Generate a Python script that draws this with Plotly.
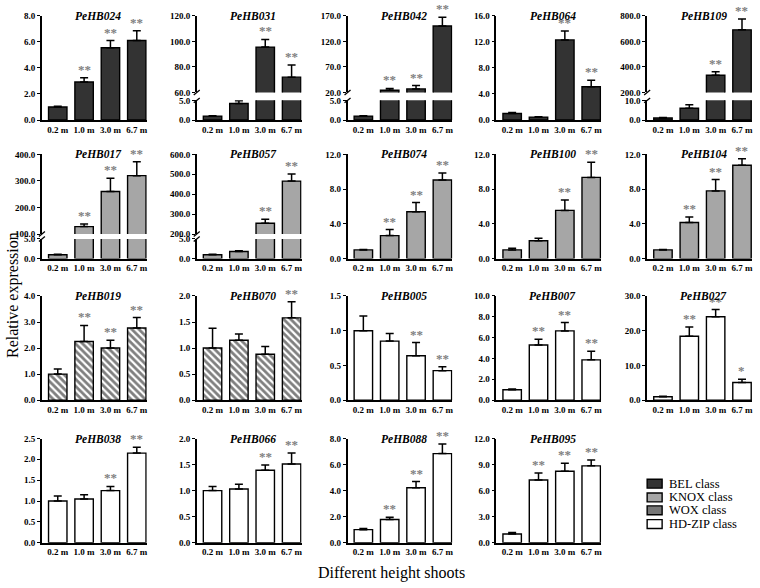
import plotly.graph_objects as go

W, H = 760, 588
FONT = "Liberation Serif"

# ---------------- data ----------------
heights = ["0.2 m", "1.0 m", "3.0 m", "6.7 m"]

PeHB024 = [1.0, 2.92, 5.55, 6.1]
PeHB024_sd = [0.05, 0.32, 0.55, 0.75]
PeHB024_sig = ["", "**", "**", "**"]

PeHB031 = [1.0, 4.2, 95.5, 72.0]
PeHB031_sd = [0.1, 0.7, 6.0, 9.5]
PeHB031_sig = ["", "", "**", "**"]

PeHB042 = [1.0, 24.5, 27.0, 150.0]
PeHB042_sd = [0.1, 3.5, 6.5, 17.0]
PeHB042_sig = ["", "**", "**", "**"]

PeHB064 = [1.0, 0.45, 12.3, 5.1]
PeHB064_sd = [0.15, 0.05, 1.35, 1.0]
PeHB064_sig = ["", "", "**", "**"]

PeHB109 = [1.0, 6.0, 335.0, 690.0]
PeHB109_sd = [0.3, 1.8, 28.0, 85.0]
PeHB109_sig = ["", "", "**", "**"]

PeHB017 = [1.0, 128.0, 260.0, 320.0]
PeHB017_sd = [0.1, 10.0, 50.0, 52.0]
PeHB017_sig = ["", "**", "**", "**"]

PeHB057 = [1.0, 1.8, 254.0, 466.0]
PeHB057_sd = [0.1, 0.2, 20.0, 35.0]
PeHB057_sig = ["", "", "**", "**"]

PeHB074 = [1.0, 2.65, 5.4, 9.05]
PeHB074_sd = [0.05, 0.7, 1.05, 0.8]
PeHB074_sig = ["", "**", "**", "**"]

PeHB100 = [1.0, 2.05, 5.55, 9.35]
PeHB100_sd = [0.2, 0.3, 1.2, 1.75]
PeHB100_sig = ["", "", "**", "**"]

PeHB104 = [1.0, 4.15, 7.8, 10.75]
PeHB104_sd = [0.05, 0.65, 1.3, 0.75]
PeHB104_sig = ["", "**", "**", "**"]

PeHB019 = [1.0, 2.25, 2.0, 2.77]
PeHB019_sd = [0.2, 0.62, 0.3, 0.4]
PeHB019_sig = ["", "**", "**", "**"]

PeHB070 = [1.0, 1.15, 0.88, 1.58]
PeHB070_sd = [0.38, 0.12, 0.15, 0.31]
PeHB070_sig = ["", "", "", "**"]

PeHB005 = [1.0, 0.85, 0.64, 0.425]
PeHB005_sd = [0.21, 0.11, 0.19, 0.055]
PeHB005_sig = ["", "", "**", "**"]

PeHB007 = [1.0, 5.3, 6.65, 3.87]
PeHB007_sd = [0.08, 0.55, 0.8, 0.83]
PeHB007_sig = ["", "**", "**", "**"]

PeHB027 = [1.0, 18.4, 24.0, 5.1]
PeHB027_sd = [0.1, 2.7, 2.1, 0.9]
PeHB027_sig = ["", "**", "**", "*"]

PeHB038 = [1.0, 1.05, 1.25, 2.15]
PeHB038_sd = [0.12, 0.1, 0.1, 0.14]
PeHB038_sig = ["", "", "**", "**"]

PeHB066 = [1.0, 1.03, 1.39, 1.51]
PeHB066_sd = [0.08, 0.09, 0.1, 0.21]
PeHB066_sig = ["", "", "**", "**"]

PeHB088 = [1.0, 1.78, 4.22, 6.84]
PeHB088_sd = [0.09, 0.17, 0.47, 0.74]
PeHB088_sig = ["", "**", "**", "**"]

PeHB095 = [1.0, 7.22, 8.22, 8.85]
PeHB095_sd = [0.18, 0.82, 0.93, 0.67]
PeHB095_sig = ["", "**", "**", "**"]

classes = ["BEL class", "KNOX class", "WOX class", "HD-ZIP class"]

# ---------------- layout spec ----------------
panels = [
    ("PeHB024", PeHB024, PeHB024_sd, PeHB024_sig, 0, 0, "BEL", dict(rng=[0, 8], ticks=[0, 2, 4, 6, 8])),
    ("PeHB031", PeHB031, PeHB031_sd, PeHB031_sig, 0, 1, "BEL", dict(lo=[0, 5], loticks=[0, 5], up=[60, 120], upticks=[60, 80, 100, 120])),
    ("PeHB042", PeHB042, PeHB042_sd, PeHB042_sig, 0, 2, "BEL", dict(lo=[0, 5], loticks=[0, 5], up=[20, 170], upticks=[20, 70, 120, 170])),
    ("PeHB064", PeHB064, PeHB064_sd, PeHB064_sig, 0, 3, "BEL", dict(rng=[0, 16], ticks=[0, 4, 8, 12, 16])),
    ("PeHB109", PeHB109, PeHB109_sd, PeHB109_sig, 0, 4, "BEL", dict(lo=[0, 10], loticks=[0, 10], up=[200, 800], upticks=[200, 400, 600, 800])),
    ("PeHB017", PeHB017, PeHB017_sd, PeHB017_sig, 1, 0, "KNOX", dict(lo=[0, 5], loticks=[0, 5], up=[100, 400], upticks=[100, 200, 300, 400])),
    ("PeHB057", PeHB057, PeHB057_sd, PeHB057_sig, 1, 1, "KNOX", dict(lo=[0, 5], loticks=[0, 5], up=[200, 600], upticks=[200, 300, 400, 500, 600])),
    ("PeHB074", PeHB074, PeHB074_sd, PeHB074_sig, 1, 2, "KNOX", dict(rng=[0, 12], ticks=[0, 4, 8, 12])),
    ("PeHB100", PeHB100, PeHB100_sd, PeHB100_sig, 1, 3, "KNOX", dict(rng=[0, 12], ticks=[0, 4, 8, 12])),
    ("PeHB104", PeHB104, PeHB104_sd, PeHB104_sig, 1, 4, "KNOX", dict(rng=[0, 12], ticks=[0, 4, 8, 12])),
    ("PeHB019", PeHB019, PeHB019_sd, PeHB019_sig, 2, 0, "WOX", dict(rng=[0, 4], ticks=[0, 1, 2, 3, 4])),
    ("PeHB070", PeHB070, PeHB070_sd, PeHB070_sig, 2, 1, "WOX", dict(rng=[0, 2], ticks=[0, 0.5, 1, 1.5, 2])),
    ("PeHB005", PeHB005, PeHB005_sd, PeHB005_sig, 2, 2, "HDZIP", dict(rng=[0, 1.5], ticks=[0, 0.5, 1, 1.5])),
    ("PeHB007", PeHB007, PeHB007_sd, PeHB007_sig, 2, 3, "HDZIP", dict(rng=[0, 10], ticks=[0, 2, 4, 6, 8, 10])),
    ("PeHB027", PeHB027, PeHB027_sd, PeHB027_sig, 2, 4, "HDZIP", dict(rng=[0, 30], ticks=[0, 10, 20, 30])),
    ("PeHB038", PeHB038, PeHB038_sd, PeHB038_sig, 3, 0, "HDZIP", dict(rng=[0, 2.5], ticks=[0, 0.5, 1, 1.5, 2, 2.5])),
    ("PeHB066", PeHB066, PeHB066_sd, PeHB066_sig, 3, 1, "HDZIP", dict(rng=[0, 2], ticks=[0, 0.5, 1, 1.5, 2])),
    ("PeHB088", PeHB088, PeHB088_sd, PeHB088_sig, 3, 2, "HDZIP", dict(rng=[0, 8], ticks=[0, 2, 4, 6, 8])),
    ("PeHB095", PeHB095, PeHB095_sd, PeHB095_sig, 3, 3, "HDZIP", dict(rng=[0, 12], ticks=[0, 3, 6, 9, 12])),
]

col_x = [42, 197, 348, 497, 648]
plot_w = 105
row_top = [11, 152, 296, 441]
row_bot = [117, 258, 402, 547]
lower_h = 20
break_gap = [8, 5, 5, 5]

STAR_COLOR = "#808080"
LW = 1.6


def fx(px):
    return px / W


def fy(py):
    return 1 - py / H


def marker_for(cls):
    base = dict(line=dict(color="black", width=1.4))
    if cls == "BEL":
        base["color"] = "#333333"
    elif cls == "KNOX":
        base["color"] = "#a6a6a6"
    elif cls == "WOX":
        base["color"] = "white"
        base["pattern"] = dict(shape="\\", fgcolor="black", bgcolor="white", size=5, solidity=0.55)
    else:
        base["color"] = "white"
    return base


fig = go.Figure()
layout = {}
annotations = []
shapes = []
axis_n = [0]


def new_axis():
    axis_n[0] += 1
    return axis_n[0]


def ax_name(kind, n):
    return f"{kind}axis" if n == 1 else f"{kind}axis{n}"


def ref(kind, n):
    return kind if n == 1 else f"{kind}{n}"


tickfont = dict(family=FONT, size=9, color="black", weight="bold")

for name, vals, sd, sig, r, c, cls, spec in panels:
    x0 = col_x[c]
    xdom = [fx(x0), fx(x0 + plot_w)]
    top, bot = row_top[r], row_bot[r]
    broken = "lo" in spec

    n = new_axis()
    xa = dict(domain=xdom, anchor=ref("y", n), type="category", range=[-0.6, 3.38],
              showline=True, linecolor="black", linewidth=LW, ticks="", showgrid=False,
              zeroline=False, tickfont=tickfont, ticklabelstandoff=0)
    if broken:
        ydom = [fy(bot), fy(bot - lower_h)]
        yrng, yt = spec["lo"], spec["loticks"]
    else:
        ydom = [fy(bot), fy(top)]
        yrng, yt = spec["rng"], spec["ticks"]
    ya = dict(domain=ydom, anchor=ref("x", n), range=yrng, tickvals=yt, tickformat=".1f",
              showline=True, linecolor="black", linewidth=LW, ticks="outside", ticklen=3,
              tickwidth=1.3, tickcolor="black", showgrid=False, zeroline=False, tickfont=tickfont)
    layout[ax_name("x", n)] = xa
    layout[ax_name("y", n)] = ya

    trace_kw = dict(x=heights, y=vals, width=0.7, marker=marker_for(cls), showlegend=False,
                    error_y=dict(type="data", symmetric=False, array=sd, arrayminus=[0] * 4,
                                 color="black", thickness=1.5, width=4))
    fig.add_trace(go.Bar(xaxis=ref("x", n), yaxis=ref("y", n), **trace_kw))

    up_n = None
    if broken:
        up_n = new_axis()
        ytop_up = bot - lower_h - break_gap[r]
        layout[ax_name("x", up_n)] = dict(domain=xdom, anchor=ref("y", up_n), type="category",
                                          range=[-0.6, 3.38], visible=False)
        layout[ax_name("y", up_n)] = dict(domain=[fy(ytop_up), fy(top)], anchor=ref("x", up_n),
                                          range=spec["up"], tickvals=spec["upticks"], tickformat=".1f",
                                          showline=True, linecolor="black", linewidth=LW,
                                          ticks="outside", ticklen=3, tickwidth=1.3, tickcolor="black",
                                          showgrid=False, zeroline=False, tickfont=tickfont)
        fig.add_trace(go.Bar(xaxis=ref("x", up_n), yaxis=ref("y", up_n), **trace_kw))
        for yy in (bot - lower_h, ytop_up):
            shapes.append(dict(type="line", xref="paper", yref="paper",
                               x0=fx(x0 - 3), y0=fy(yy + 2.5), x1=fx(x0 + 3), y1=fy(yy - 2.5),
                               line=dict(color="black", width=1.3)))

    # significance stars
    for cat, v, e, s in zip(heights, vals, sd, sig):
        if not s:
            continue
        yv = v + e
        if broken and yv > spec["lo"][1]:
            xr, yr = ref("x", up_n), ref("y", up_n)
        else:
            xr, yr = ref("x", n), ref("y", n)
        annotations.append(dict(x=cat, y=yv, xref=xr, yref=yr, text=s, showarrow=False,
                                xanchor="center", yanchor="bottom", yshift=-1,
                                font=dict(family=FONT, size=13, color=STAR_COLOR, weight="bold")))

    # panel title
    annotations.append(dict(x=fx(x0 + plot_w / 2 + 4), y=fy(top), xref="paper", yref="paper",
                            text=f"<b><i>{name}</i></b>", showarrow=False,
                            xanchor="center", yanchor="middle",
                            font=dict(family=FONT, size=11.5, color="black")))

# axis titles
annotations.append(dict(x=fx(13), y=fy(295), xref="paper", yref="paper", text="Relative expression",
                        textangle=-90, showarrow=False, xanchor="center", yanchor="middle",
                        font=dict(family=FONT, size=16, color="black")))
annotations.append(dict(x=fx(392), y=fy(578), xref="paper", yref="paper", text="Different height shoots",
                        showarrow=False, xanchor="center", yanchor="middle",
                        font=dict(family=FONT, size=16, color="black")))

# legend (drawn manually)
leg_fill = ["#333333", "#a6a6a6", "#767676", "white"]
leg_y = [487, 501, 514, 528]
for lab, fill, yy in zip(classes, leg_fill, leg_y):
    shapes.append(dict(type="rect", xref="paper", yref="paper", x0=fx(648), x1=fx(663),
                       y0=fy(yy + 4.5), y1=fy(yy - 4.5), fillcolor=fill,
                       line=dict(color="black", width=1.4)))
    annotations.append(dict(x=fx(668), y=fy(yy), xref="paper", yref="paper", text=lab,
                            showarrow=False, xanchor="left", yanchor="middle",
                            font=dict(family=FONT, size=12.5, color="black")))

fig.update_layout(
    width=W, height=H, autosize=False,
    margin=dict(l=0, r=0, t=0, b=0),
    paper_bgcolor="white", plot_bgcolor="white",
    showlegend=False, bargap=0.3,
    annotations=annotations, shapes=shapes,
    **layout,
)

fig.write_html("out.html", config={"displayModeBar": False},
               post_script="document.body.style.margin='0px';document.body.style.overflow='hidden';")
